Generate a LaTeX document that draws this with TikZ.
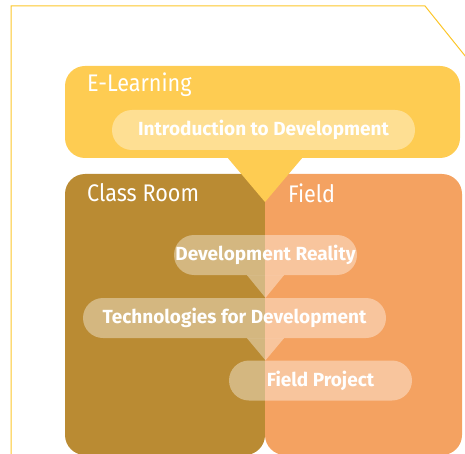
\documentclass[tikz,border=0pt]{standalone}
\usepackage{fontspec}
\setmainfont{Fira Sans}
\newfontfamily\pillfont{Fira Sans}[FakeStretch=0.9]
\usetikzlibrary{positioning}

\definecolor{elearncol}{HTML}{FECC52}
\definecolor{roomcol}{HTML}{BA8B33}
\definecolor{fieldcol}{HTML}{F4A261}
\definecolor{framecol}{HTML}{FCC62A}

\tikzset{
  area/.style={rounded corners=20pt, inner sep=0pt},
  pill/.style={fill=white, fill opacity=0.38, text opacity=1, text=white,
    rounded corners=20pt, minimum height=40pt, inner sep=0pt,
    font=\bfseries\fontsize{19}{19}\selectfont},
  title/.style={text=white, anchor=base west, inner sep=0pt,
    font=\pillfont\fontsize{24}{24}\selectfont},
}

\begin{document}
\begin{tikzpicture}[x=1pt, y=-1pt]
        \useasboundingbox (0,0) rectangle (465,454);
        \begin{scope}
        \clip (0,0) rectangle (465,454);
        \draw[framecol, line width=1pt] (11,460) -- (11,6) -- (425,6) -- (470,62);

        \node[area, fill=roomcol, minimum width=200pt, minimum height=281pt] (classroom) at (165,314.5) {};
        \node[area, fill=fieldcol, minimum width=197pt, minimum height=281pt] (field) at (363.5,314.5) {};
        \node[area, fill=elearncol, minimum width=395pt, minimum height=92pt] (elearn) at (262.5,112) {};
        \fill[elearncol] ([xshift=-34.5pt]elearn.south) -- ([xshift=39.5pt]elearn.south) -- (265,202) -- cycle;
        \end{scope}

        \node[title] at (87,91.5) {E-Learning};
        \node[title] at (87,201) {Class Room};
        \node[title] at (288,203) {Field};

        \node[pill, minimum width=303pt] (intro) at (263.5,130) {Introduction to Development};
        \node[pill, minimum width=183pt] (devreal) at (265.5,255) {Development Reality};
        \node[pill, minimum width=303pt] (techdev) at (234.5,318) {Technologies for Development};
        \node[pill, minimum width=183pt] (fieldproj) at (320.5,380.5) {Field Project};

        \fill[white, opacity=0.38] ([xshift=-18.5pt]devreal.south) -- ([xshift=18.5pt]devreal.south) -- (techdev.north -| devreal.south) -- cycle;
        \fill[white, opacity=0.38] ([xshift=12.5pt]techdev.south) -- ([xshift=49.5pt]techdev.south) -- (fieldproj.north -| devreal.south) -- cycle;
\end{tikzpicture}
\end{document}
